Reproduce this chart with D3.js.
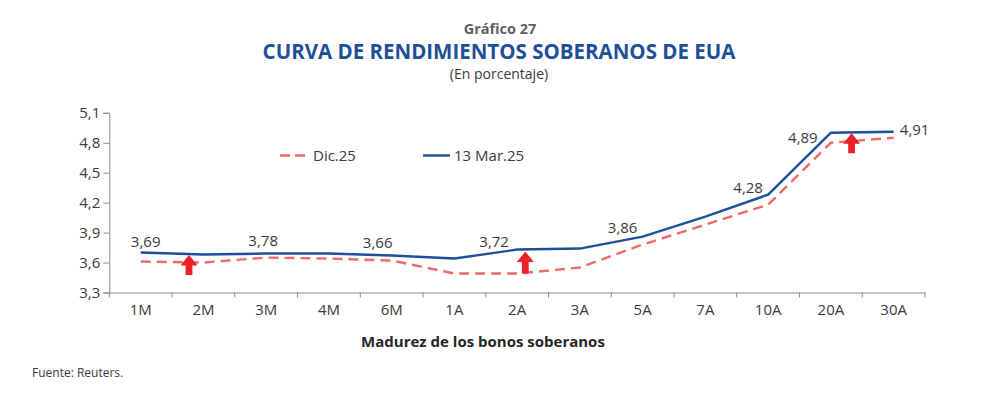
<!DOCTYPE html>
<html>
<head>
<meta charset="utf-8">
<script src="https://cdn.jsdelivr.net/npm/d3@7"></script>
<style>
  body { margin: 0; background: #fff; }
  svg { display: block; font-family: "Open Sans", "Noto Sans", sans-serif; }
</style>
</head>
<body>
<svg id="chart" width="1001" height="403"></svg>
<script>
// data
var maturities = ["1M", "2M", "3M", "4M", "6M", "1A", "2A", "3A", "5A", "7A", "10A", "20A", "30A"]
var dic25 = [3.61, 3.60, 3.65, 3.64, 3.62, 3.49, 3.49, 3.55, 3.78, 3.98, 4.18, 4.80, 4.85]
var mar25 = [3.70, 3.68, 3.69, 3.69, 3.67, 3.64, 3.73, 3.74, 3.86, 4.06, 4.28, 4.90, 4.91]
var yTicks = [3.3, 3.6, 3.9, 4.2, 4.5, 4.8, 5.1]

// value labels printed on the chart
var labelCats = ["1M", "3M", "6M", "2A", "5A", "10A", "20A", "30A"]
var labelText = ["3,69", "3,78", "3,66", "3,72", "3,86", "4,28", "4,89", "4,91"]

// red arrows: category position (index), base value, tip value
var arrowPos = [0.77, 6.13, 11.33]
var arrowBase = [3.475, 3.49, 4.695]
var arrowTip = [3.675, 3.71, 4.895]

// layout
var width = 1001
var height = 403
var plotLeft = 109.3, plotRight = 925, plotTop = 112.8, plotBottom = 292.5
var blue = "#1f4e9b"
var red = "#f06a6a"
var txt = "#3a3a3a"
var axisCol = "#8c8c8c"

var svg = d3.select("#chart")

svg.append("rect").attr("width", width).attr("height", height).attr("fill", "#fff")

// titles
svg.append("text").attr("x", 500).attr("y", 33.5).attr("text-anchor", "middle")
  .attr("font-size", 14.5).attr("font-weight", "bold").attr("fill", "#5f5f5f")
  .text("Gráfico 27")
svg.append("text").attr("x", 499).attr("y", 58.5).attr("text-anchor", "middle")
  .attr("font-size", 20.5).attr("font-weight", "bold").attr("fill", blue)
  .text("CURVA DE RENDIMIENTOS SOBERANOS DE EUA")
svg.append("text").attr("x", 499).attr("y", 78.5).attr("text-anchor", "middle")
  .attr("font-size", 14).attr("fill", txt)
  .text("(En porcentaje)")

// scales
var x = d3.scaleBand().domain(maturities).range([plotLeft, plotRight]).padding(0)
var cx = function(c) { return x(c) + x.bandwidth() / 2 }
var xi = d3.scaleLinear().domain([0, maturities.length - 1])
  .range([cx(maturities[0]), cx(maturities[maturities.length - 1])])
var y = d3.scaleLinear().domain([3.3, 5.1]).range([plotBottom, plotTop])

// y axis
var yAxis = svg.append("g").attr("transform", "translate(" + plotLeft + ",0)")
  .call(d3.axisLeft(y).tickValues(yTicks).tickSize(6).tickPadding(3)
    .tickFormat(function(d) { return d3.format(".1f")(d).replace(".", ",") }))
yAxis.select(".domain").attr("stroke", axisCol)
yAxis.selectAll(".tick line").attr("stroke", axisCol)
yAxis.selectAll(".tick text").attr("font-size", 15).attr("fill", txt)
  .attr("font-family", "Open Sans, sans-serif")

// x axis: ticks on band edges
var xAxis = svg.append("g").attr("transform", "translate(0," + plotBottom + ")")
  .call(d3.axisBottom(x).tickSize(0).tickPadding(12))
xAxis.select(".domain").attr("stroke", axisCol)
xAxis.selectAll(".tick text").attr("font-size", 15).attr("fill", txt)
  .attr("font-family", "Open Sans, sans-serif")
svg.append("g").selectAll("line")
  .data(d3.range(maturities.length + 1))
  .enter().append("line")
  .attr("x1", function(i) { return plotLeft + i * x.step() })
  .attr("x2", function(i) { return plotLeft + i * x.step() })
  .attr("y1", plotBottom).attr("y2", plotBottom + 5)
  .attr("stroke", axisCol)

svg.append("text").attr("x", 483).attr("y", 346.5).attr("text-anchor", "middle")
  .attr("font-size", 15).attr("font-weight", "bold").attr("fill", "#262626")
  .text("Madurez de los bonos soberanos")

svg.append("text").attr("x", 32).attr("y", 377).attr("font-size", 12).attr("fill", txt)
  .text("Fuente: Reuters.")

// lines
var line = d3.line()
  .x(function(d, i) { return cx(maturities[i]) })
  .y(function(d) { return y(d) })

svg.append("path").datum(dic25).attr("d", line)
  .attr("fill", "none").attr("stroke", red).attr("stroke-width", 2.4)
  .attr("stroke-dasharray", "10,6")
svg.append("path").datum(mar25).attr("d", line)
  .attr("fill", "none").attr("stroke", blue).attr("stroke-width", 2.4)

// value labels (offsets are only placement)
var labelDx = [5, -3, -14, -23, -20, -20, -28, 21]
var labelDy = [-6, -8, -8, -3, -4, -2, 10, 3]
svg.append("g").selectAll("text")
  .data(labelText)
  .enter().append("text")
  .attr("x", function(d, i) { return cx(labelCats[i]) + labelDx[i] })
  .attr("y", function(d, i) { return y(mar25[maturities.indexOf(labelCats[i])]) + labelDy[i] })
  .attr("text-anchor", "middle")
  .attr("font-size", 15).attr("fill", txt)
  .text(function(d) { return d })

// arrows
svg.append("g").selectAll("path")
  .data(arrowPos)
  .enter().append("path")
  .attr("fill", "#ee2027")
  .attr("d", function(p, i) {
    var ax = xi(p), yb = y(arrowBase[i]), yt = y(arrowTip[i])
    var hh = 10.5, hw = 8.5, sw = 3.4
    return "M" + (ax - sw) + "," + yb + "L" + (ax - sw) + "," + (yt + hh) +
      "L" + (ax - hw) + "," + (yt + hh) + "L" + ax + "," + yt +
      "L" + (ax + hw) + "," + (yt + hh) + "L" + (ax + sw) + "," + (yt + hh) +
      "L" + (ax + sw) + "," + yb + "Z"
  })

// legend
var legend = svg.append("g")
var legItems = ["Dic.25", "13 Mar.25"]
var legColor = [red, blue]
var legDash = ["10,5", null]
var legX = [280, 423]
legItems.forEach(function(name, i) {
  legend.append("line").attr("x1", legX[i]).attr("x2", legX[i] + (i == 0 ? 30 : 27))
    .attr("y1", 155.5).attr("y2", 155.5)
    .attr("stroke", legColor[i]).attr("stroke-width", 2.4)
    .attr("stroke-dasharray", legDash[i])
  legend.append("text").attr("x", legX[i] + (i == 0 ? 33 : 31)).attr("y", 161)
    .attr("font-size", 15).attr("fill", txt).text(name)
})
</script>
</body>
</html>
